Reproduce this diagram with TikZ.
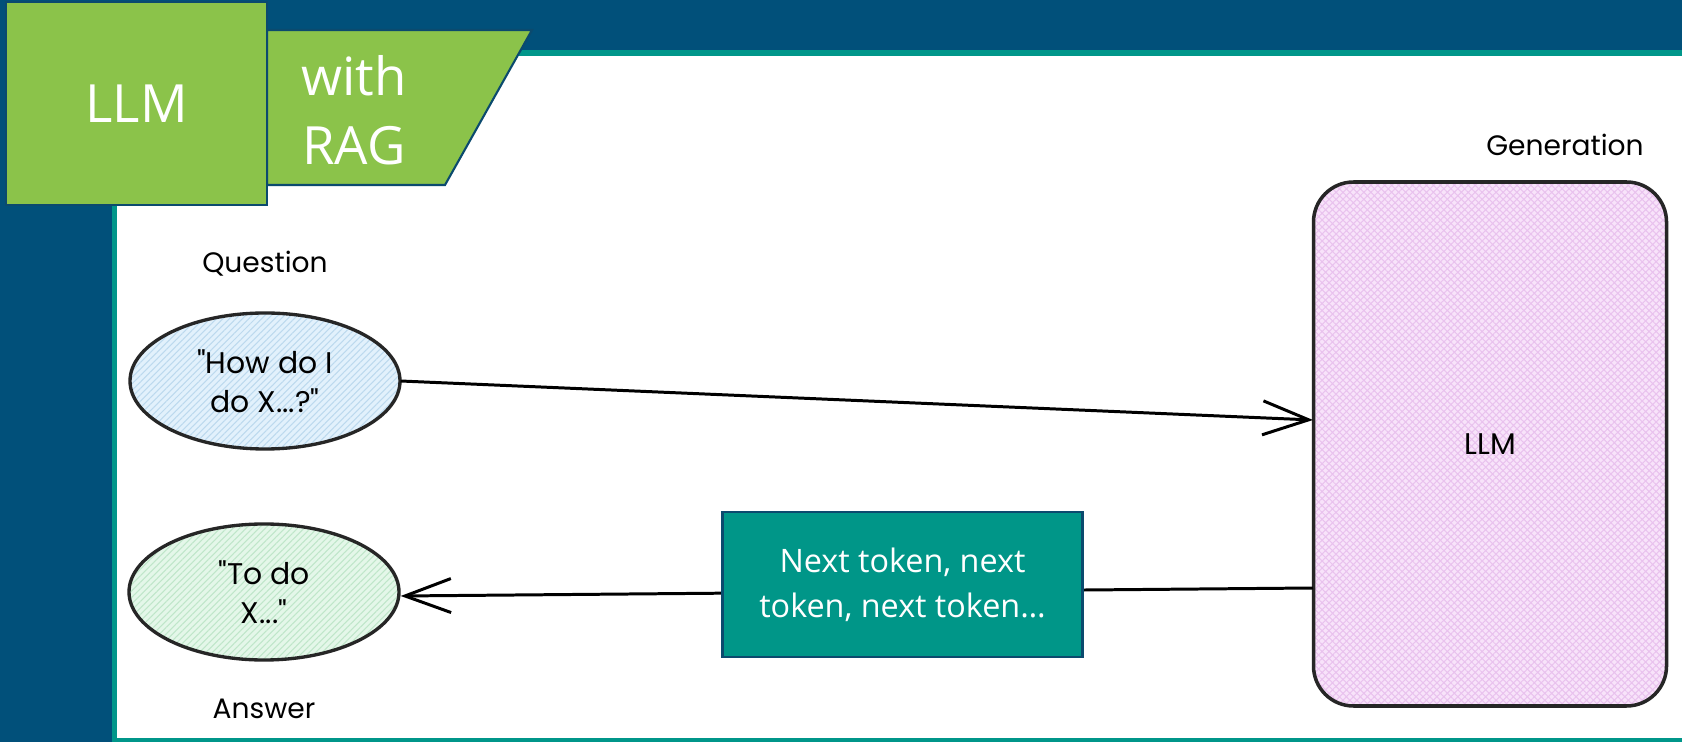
\documentclass[tikz,border=0pt]{standalone}
\usepackage{fontspec}
\setmainfont{Open Sans}
\newfontfamily\handfont{Poppins}
\usepackage{tikz}
\usetikzlibrary{arrows,arrows.meta,shapes.geometric,patterns.meta}

\definecolor{slideblue}{HTML}{01507A}
\definecolor{slideteal}{HTML}{00968A}
\definecolor{taggreen}{HTML}{8BC34A}
\definecolor{tagedge}{HTML}{0B4A6E}
\definecolor{tokenteal}{HTML}{009688}
\definecolor{qfill}{HTML}{E2F1FC}
\definecolor{qhatch}{HTML}{BCD9EE}
\definecolor{afill}{HTML}{E4F7E9}
\definecolor{ahatch}{HTML}{BFE6C9}
\definecolor{gfill}{HTML}{F8E3FA}
\definecolor{ghatch}{HTML}{E9C2EE}

\begin{document}
\begin{tikzpicture}[x=0.1mm,y=-0.1mm,->,>={Straight Barb[length=4.6mm,width=3.4mm]},
                    line width=0.85pt,node distance=11.7mm]
  \tikzstyle{tag}=[fill=taggreen,draw=tagedge,line width=0.6pt,text=white,
                   font=\fontsize{15}{19.5}\selectfont]
  \tikzstyle{blob}=[ellipse,draw=black!85,line width=0.95pt,align=center,inner sep=0pt,
                    minimum width=27mm,minimum height=13.6mm,
                    font=\handfont\fontsize{8.5}{11}\selectfont]
  \tikzstyle{hand}=[font=\handfont\fontsize{8}{10}\selectfont]
  \tikzstyle{llmbox}=[rectangle,rounded corners=4mm,draw=black!85,line width=1pt,
                      minimum width=35.3mm,minimum height=52.4mm,
                      preaction={fill=gfill},pattern color=ghatch,
                      pattern={Hatch[angle=45,distance=1.4pt,line width=0.3pt]},
                      font=\handfont\fontsize{8.5}{11}\selectfont]
  \tikzstyle{token}=[fill=tokenteal,draw=tagedge,line width=0.6pt,text=white,align=center,
                     minimum width=36mm,minimum height=14.5mm,
                     font=\fontsize{9.2}{12.8}\selectfont]

  \useasboundingbox (0,0) rectangle (1682,742);

  % slide frame
  \fill[slideblue] (0,0) rectangle (1682,742);
  \fill[slideteal] (112,50) rectangle (1682,742);
  \fill[white] (117,56) rectangle (1682,738);

  % title tag
  \draw[tag,-] (267,30) -- (532,30) -- (445,185) -- (267,185) -- cycle;
  \node[tag,minimum width=26.1mm,minimum height=20.3mm] (L) at (136.5,103.5) {LLM};
  \node[tag,fill=none,draw=none,align=center] (R) at (354,110) {with\\RAG};

  % question / answer / generation
  \node[blob,preaction={fill=qfill},pattern color=qhatch,
        pattern={Lines[angle=45,distance=1.3pt,line width=0.3pt]}] (Q) at (265,381)
        {"How do I\\do X...?"};
  \node[blob,preaction={fill=afill},pattern color=ahatch,
        pattern={Lines[angle=45,distance=1.3pt,line width=0.3pt]}] (A) at (264,592)
        {"To do\\X..."};
  \node[hand] (QL) [above of=Q] {Question};
  \node[hand] (AL) [below of=A] {Answer};
  \node[llmbox] (G) at (1490,444) {LLM};
  \node[hand] (GL) at (1565,145) {Generation};

  \path (Q.east) edge ([yshift=2.4mm]G.west)
        ([yshift=-14.4mm]G.west) edge node[token,pos=0.45,yshift=0.7mm] (T)
                                 {Next token, next\\token, next token…} ([yshift=-0.4mm]A.east);
\end{tikzpicture}
\end{document}
